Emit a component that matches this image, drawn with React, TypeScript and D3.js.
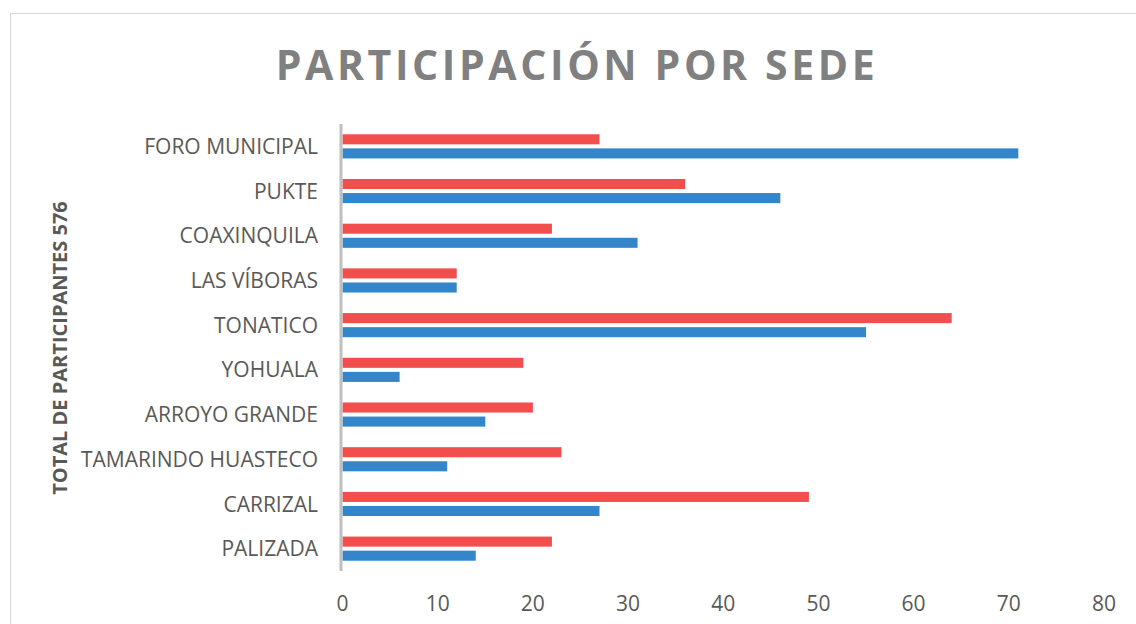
import React from "react";
import * as d3 from "d3";

const categories = [
  "FORO MUNICIPAL",
  "PUKTE",
  "COAXINQUILA",
  "LAS VÍBORAS",
  "TONATICO",
  "YOHUALA",
  "ARROYO GRANDE",
  "TAMARINDO HUASTECO",
  "CARRIZAL",
  "PALIZADA",
];
const seriesRed = [27, 36, 22, 12, 64, 19, 20, 23, 49, 22];
const seriesBlue = [71, 46, 31, 12, 55, 6, 15, 11, 27, 14];
const xTicks = [0, 10, 20, 30, 40, 50, 60, 70, 80];
const title = "PARTICIPACIÓN POR SEDE";
const yTitle = "TOTAL DE PARTICIPANTES 576";

const W = 1136;
const H = 624;
const FONT = "'Open Sans', 'Noto Sans', sans-serif";

export default function App() {
  const x = d3.scaleLinear().domain([0, 80]).range([342.5, 1104]);
  const y0 = d3
    .scaleBand<string>()
    .domain(categories)
    .range([124, 571])
    .paddingInner(0.46)
    .paddingOuter(0.23);
  const y1 = d3
    .scaleBand<string>()
    .domain(["red", "blue"])
    .range([0, y0.bandwidth()])
    .paddingInner(0.286);

  const series = [
    { key: "red", values: seriesRed, color: "#F24E4E" },
    { key: "blue", values: seriesBlue, color: "#3386C9" },
  ];

  return (
    <svg
      width={W}
      height={H}
      style={{ position: "absolute", left: 0, top: 0, background: "#fff" }}
      fontFamily={FONT}
    >
      <rect x={0} y={0} width={W} height={H} fill="#fff" />
      <rect x={10.5} y={13.5} width={1300} height={800} fill="none" stroke="#D9D9D9" strokeWidth={1} />
      <text
        x={577}
        y={80}
        textAnchor="middle"
        fontSize={41}
        fontWeight={700}
        letterSpacing={3.6}
        fill="#808080"
      >
        {title}
      </text>
      <text
        transform={`translate(67, ${348}) rotate(-90)`}
        textAnchor="middle"
        fontSize={20}
        fontWeight={700}
        fill="#595959"
      >
        {yTitle}
      </text>
      {series.map((s) =>
        categories.map((c, i) => (
          <rect
            key={s.key + c}
            x={x(0)}
            y={(y0(c) as number) + (y1(s.key) as number)}
            width={x(s.values[i]) - x(0)}
            height={y1.bandwidth()}
            fill={s.color}
          />
        ))
      )}
      <line x1={341} x2={341} y1={124} y2={571} stroke="#BFBFBF" strokeWidth={3} />
      {categories.map((c) => (
        <text
          key={c}
          x={318}
          y={(y0(c) as number) + y0.bandwidth() / 2}
          dy="0.36em"
          textAnchor="end"
          fontSize={21}
          fill="#595959"
        >
          {c}
        </text>
      ))}
      {xTicks.map((t) => (
        <text
          key={t}
          x={x(t)}
          y={603}
          dy="0.36em"
          textAnchor="middle"
          fontSize={21}
          fill="#595959"
        >
          {t}
        </text>
      ))}
    </svg>
  );
}
